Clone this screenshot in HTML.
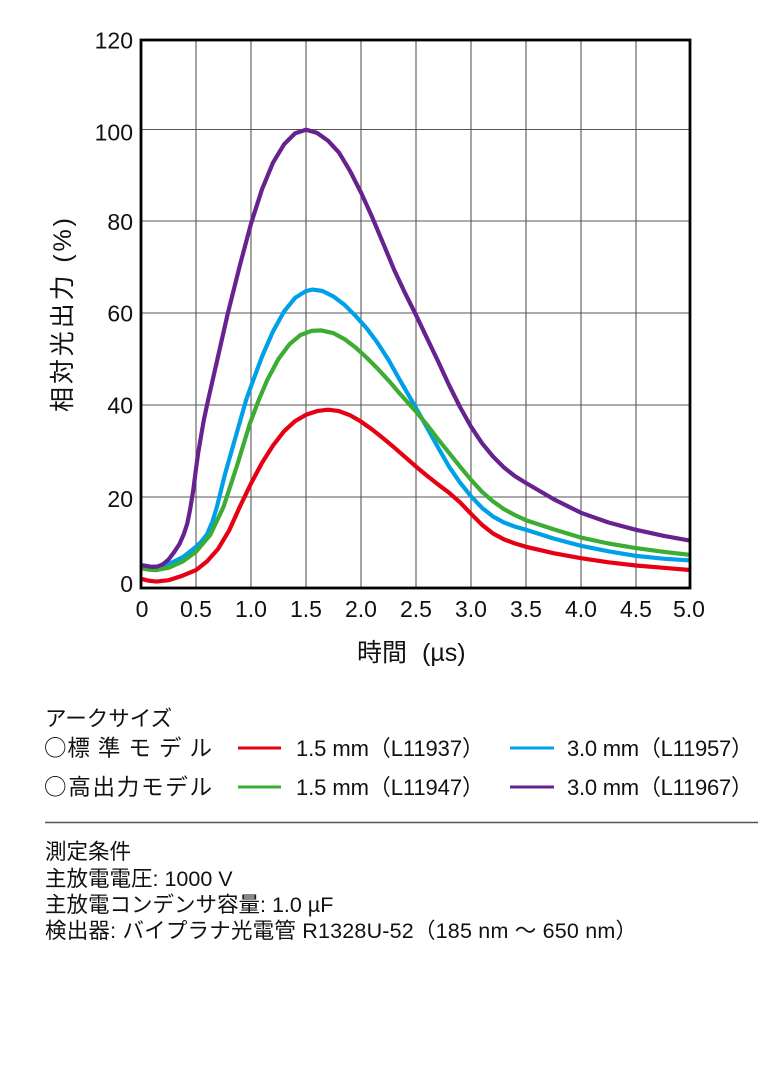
<!DOCTYPE html>
<html>
<head>
<meta charset="utf-8">
<style>
  html, body { margin: 0; padding: 0; background: #ffffff; }
  body { width: 768px; height: 1085px; overflow: hidden; }
  svg { display: block; }
  .lat { font-family: "Liberation Sans", "Noto Sans CJK JP", sans-serif; }
  .jp { font-family: "Liberation Sans", "Noto Sans CJK JP", sans-serif; }
  .cjk { font-family: "Noto Sans CJK JP", sans-serif; }
</style>
</head>
<body>
<svg width="768" height="1085" viewBox="0 0 768 1085" xmlns="http://www.w3.org/2000/svg">
  <rect x="0" y="0" width="768" height="1085" fill="#ffffff"/>
  <defs>
    <clipPath id="plot">
      <rect x="141" y="40" width="549" height="548"/>
    </clipPath>
  </defs>

  <!-- grid -->
  <g stroke="#666666" stroke-width="1.2">
    <line x1="196" y1="40" x2="196" y2="588"/>
    <line x1="251" y1="40" x2="251" y2="588"/>
    <line x1="306" y1="40" x2="306" y2="588"/>
    <line x1="361" y1="40" x2="361" y2="588"/>
    <line x1="416" y1="40" x2="416" y2="588"/>
    <line x1="471" y1="40" x2="471" y2="588"/>
    <line x1="526" y1="40" x2="526" y2="588"/>
    <line x1="581" y1="40" x2="581" y2="588"/>
    <line x1="636" y1="40" x2="636" y2="588"/>
  </g>
  <g stroke="#555555" stroke-width="1.1">
    <line x1="141" y1="129.5" x2="690" y2="129.5"/>
    <line x1="141" y1="221" x2="690" y2="221"/>
    <line x1="141" y1="313" x2="690" y2="313"/>
    <line x1="141" y1="405" x2="690" y2="405"/>
    <line x1="141" y1="497" x2="690" y2="497"/>
  </g>

  <!-- curves -->
  <g clip-path="url(#plot)" fill="none" stroke-width="4.2" stroke-linejoin="round" stroke-linecap="round">
    <polyline stroke="#e60012" points="141,578.8 148.7,580.7 156.4,581.6 168.5,580.2 182.8,575.6 196,570.1 207,561.4 218,549.0 229,530.7 240,506.4 251,483.5 262,462.9 273,445.5 284,431.3 295,421.2 306,414.8 317,411.1 328,409.7 339,411.1 350,415.2 361,421.6 372,429.4 383,438.1 394,447.3 405,456.9 416,466.6 427,475.7 438,484.4 449,492.7 460,502.3 471,513.8 482,524.8 493,533.5 504,539.4 515,543.5 526,546.8 553.5,553.2 581,558.2 608.5,562.3 636,565.5 663.5,567.8 691,570.1"/>
    <polyline stroke="#00a0e9" points="141,566.0 149.3,566.9 157.5,566.9 168.5,564.2 183.4,556.8 196,546.8 201.5,541.3 207,534.5 212.5,521.5 216.9,506.9 225.2,473.4 236.7,433.1 246.1,400.1 251,386.3 262,356.6 273,331.4 284,311.6 295,297.9 306,291.0 312.6,289.6 322.5,291.0 333.5,296.5 344.5,304.8 355.5,315.8 366.5,328.1 377.5,342.8 388.5,359.8 399.5,379.5 416,407.9 427,427.6 438,447.3 449,466.6 460,482.6 471,496.3 482,507.8 493,516.5 504,522.5 515,526.6 526,529.8 553.5,538.5 581,545.8 608.5,551.3 636,555.9 663.5,558.7 691,560.5"/>
    <polyline stroke="#3cac34" points="141,568.3 148.7,569.7 156.4,570.1 168.5,567.8 182.8,561.4 196,551.8 210.3,534.8 223.5,506.9 236.7,466.6 249.9,423.5 258.7,400.1 267.5,379.5 278.5,358.9 289.5,344.2 300.5,335.0 311.5,330.9 321.4,330.4 333.5,333.2 344.5,339.1 355.5,347.4 366.5,357.5 377.5,368.5 388.5,380.4 399.5,393.2 416,411.6 427,424.8 438,439.1 449,452.8 460,466.6 471,479.8 482,491.8 493,501.4 504,509.2 515,515.1 526,520.2 553.5,529.3 581,537.6 608.5,543.5 636,548.1 663.5,551.8 691,555.0"/>
    <polyline stroke="#66238f" points="141,565.1 146.5,566.0 152,566.9 157.5,566.5 163,564.2 168.5,559.6 174,552.3 179.5,544.0 183.9,533.9 187.2,523.8 190,510.1 193.3,489.9 196,468.8 198.2,452.8 203.7,420.7 208.1,400.1 218,356.6 227.9,313.0 240,264.9 251,223.7 262,189.3 273,162.7 284,144.4 295,133.4 306,129.7 317,132.9 328,140.7 339,152.6 350,170.9 361,192.5 372,216.8 383,242.9 394,269.5 405,293.0 416,315.0 427,338.2 438,361.1 449,385.0 460,407.0 471,426.7 482,443.2 493,456.5 504,467.5 515,476.2 526,483.0 553.5,499.1 581,512.8 608.5,522.5 636,529.8 663.5,535.8 691,540.8"/>
  </g>

  <!-- frame -->
  <rect x="141" y="40" width="549" height="548" fill="none" stroke="#000000" stroke-width="2.8"/>

  <!-- y tick labels -->
  <g class="lat" font-size="23" fill="#111111" text-anchor="end">
    <text x="133" y="48.5">120</text>
    <text x="133" y="140.5">100</text>
    <text x="133" y="230">80</text>
    <text x="133" y="321.5">60</text>
    <text x="133" y="413.5">40</text>
    <text x="133" y="507">20</text>
    <text x="133" y="592">0</text>
  </g>

  <!-- x tick labels -->
  <g class="lat" font-size="23" fill="#111111" text-anchor="middle">
    <text x="142" y="617">0</text>
    <text x="196" y="617">0.5</text>
    <text x="251" y="617">1.0</text>
    <text x="306" y="617">1.5</text>
    <text x="361" y="617">2.0</text>
    <text x="416" y="617">2.5</text>
    <text x="471" y="617">3.0</text>
    <text x="526" y="617">3.5</text>
    <text x="581" y="617">4.0</text>
    <text x="636" y="617">4.5</text>
    <text x="689" y="617">5.0</text>
  </g>

  <!-- axis titles -->
  <text class="jp" x="357" y="661" font-size="25" fill="#111111">時間</text>
  <text class="jp" x="422" y="661" font-size="25" fill="#111111">(µs)</text>
  <text class="jp" transform="translate(71,412) rotate(-90)" font-size="25" fill="#111111" textLength="194" lengthAdjust="spacing">相対光出力 (%)</text>

  <!-- legend -->
  <g class="jp" fill="#111111">
    <text x="45" y="726" font-size="21.5">アークサイズ</text>
    <text x="44" y="756" font-size="22.5" textLength="168" lengthAdjust="spacing"><tspan class="cjk">○</tspan><tspan>標 準 モ デ ル</tspan></text>
    <text x="44" y="795" font-size="22.5" textLength="168" lengthAdjust="spacing"><tspan class="cjk">○</tspan><tspan>高出力モデル</tspan></text>
  </g>
  <g stroke-width="3">
    <line x1="238" y1="748" x2="281" y2="748" stroke="#e60012"/>
    <line x1="238" y1="787" x2="281" y2="787" stroke="#3cac34"/>
    <line x1="510" y1="748" x2="554" y2="748" stroke="#00a0e9"/>
    <line x1="510" y1="787" x2="554" y2="787" stroke="#66238f"/>
  </g>
  <g class="lat" font-size="22" fill="#111111">
    <text x="296" y="756" textLength="188" lengthAdjust="spacing">1.5 mm（L11937）</text>
    <text x="296" y="795" textLength="188" lengthAdjust="spacing">1.5 mm（L11947）</text>
    <text x="567" y="756" textLength="186" lengthAdjust="spacing">3.0 mm（L11957）</text>
    <text x="567" y="795" textLength="186" lengthAdjust="spacing">3.0 mm（L11967）</text>
  </g>

  <!-- separator -->
  <line x1="45" y1="822.5" x2="758" y2="822.5" stroke="#555555" stroke-width="1.5"/>

  <!-- conditions -->
  <g class="jp" font-size="21.5" fill="#111111">
    <text x="45" y="859">測定条件</text>
    <text x="45" y="886">主放電電圧: 1000 V</text>
    <text x="45" y="912">主放電コンデンサ容量: 1.0 µF</text>
    <text x="45" y="938" textLength="592" lengthAdjust="spacing">検出器: バイプラナ光電管 R1328U-52（185 nm ～ 650 nm）</text>
  </g>
</svg>
</body>
</html>
